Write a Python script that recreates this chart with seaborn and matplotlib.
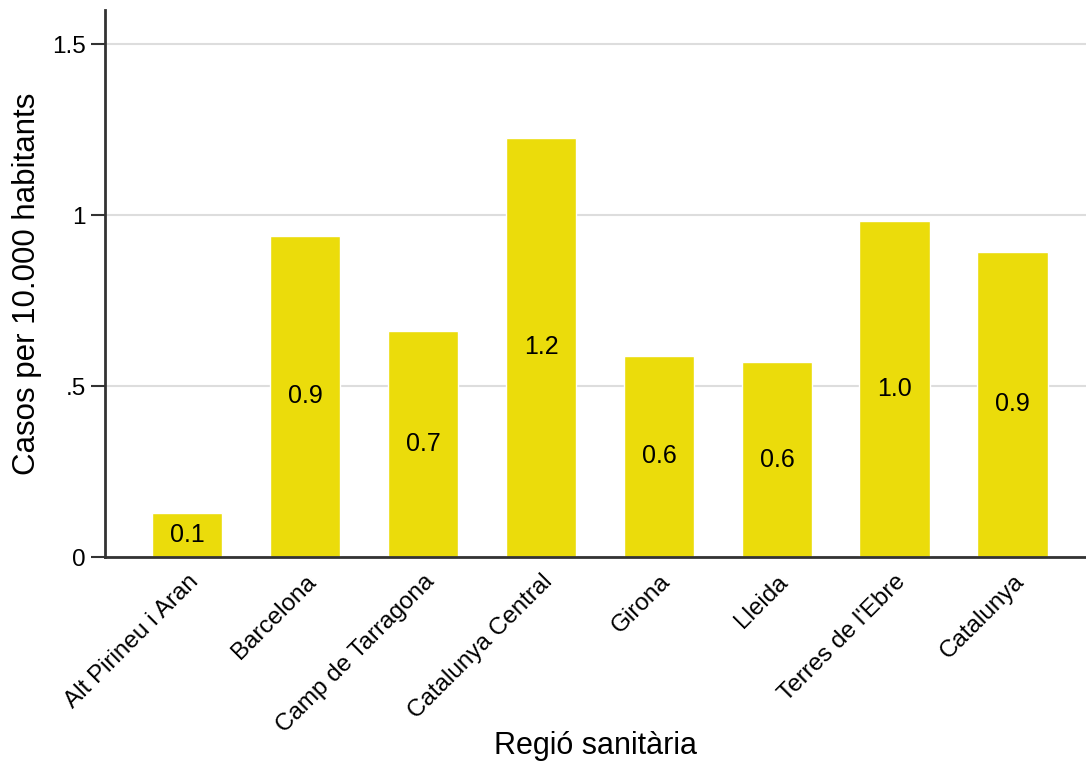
import pandas as pd
import numpy as np
import matplotlib.pyplot as plt
import seaborn as sns

# Data
regions = ['Alt Pirineu i Aran', 'Barcelona', 'Camp de Tarragona', 'Catalunya Central',
           'Girona', 'Lleida', "Terres de l'Ebre", 'Catalunya']
rates = [0.128, 0.940, 0.662, 1.226, 0.589, 0.569, 0.983, 0.893]

df = pd.DataFrame({'Regio': regions, 'Taxa': rates})

sns.set_style('white')
plt.rcParams['font.family'] = ['Liberation Sans', 'DejaVu Sans']

fig = plt.figure(figsize=(10.86, 7.62), dpi=100)
ax = fig.add_axes([0.0967, 0.269, 0.9033, 0.718])

sns.barplot(data=df, x='Regio', y='Taxa', color='#EBDC0B', saturation=1,
            width=0.6, ax=ax, zorder=2)

# Value labels in the middle of each bar
for i, v in enumerate(rates):
    ax.text(i, v / 2, f'{v:.1f}', ha='center', va='center', fontsize=18, color='black')

ax.set_ylim(0, 1.6)
ax.set_xlim(-0.695, 7.62)
ax.set_yticks([0, 0.5, 1, 1.5])
ax.set_yticklabels(['0', '.5', '1', '1.5'])
ax.yaxis.grid(True, color='#dddddd', linewidth=1.5, zorder=0)
ax.set_axisbelow(True)

for side in ['top', 'right']:
    ax.spines[side].set_visible(False)
for side in ['left', 'bottom']:
    ax.spines[side].set_color('#333333')
    ax.spines[side].set_linewidth(2)

ax.tick_params(axis='y', length=10, width=1.5, color='#333333', labelsize=17.5,
               labelcolor='black', pad=4, left=True)
ax.tick_params(axis='x', length=0, labelsize=17.5, labelcolor='black', pad=10)
plt.setp(ax.get_xticklabels(), rotation=45, ha='right', rotation_mode='anchor')

ax.set_xlabel('Regió sanitària', fontsize=22, color='black', va='top')
ax.xaxis.set_label_coords(0.5, -0.318)
ax.set_ylabel('Casos per 10.000 habitants', fontsize=22.5, color='black', labelpad=7)

plt.savefig('out.png', dpi=100)
